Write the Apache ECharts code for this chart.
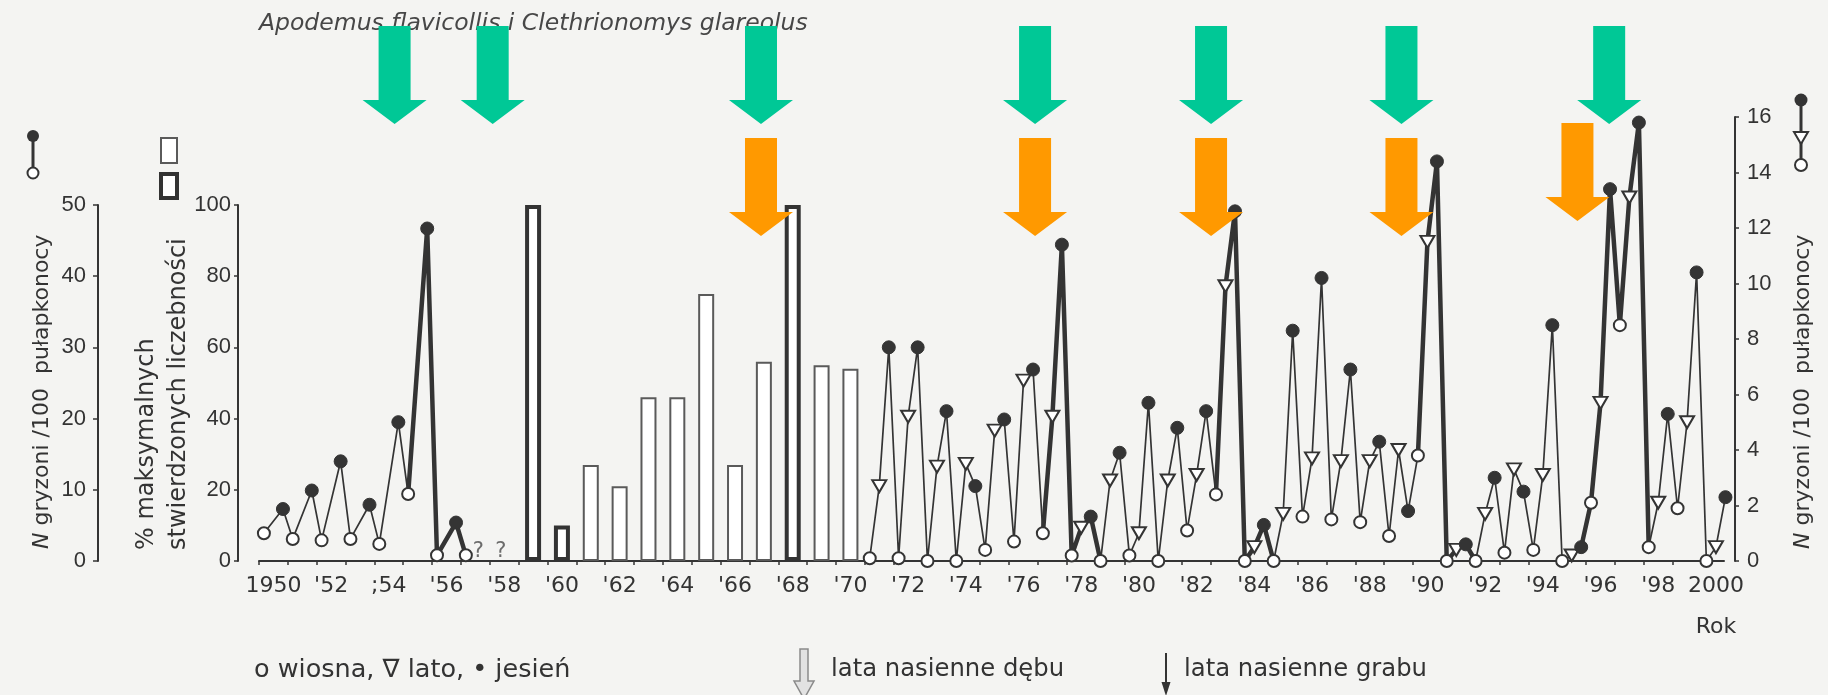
<!DOCTYPE html>
<html>
<head>
<meta charset="utf-8">
<script src="https://cdn.jsdelivr.net/npm/echarts@6/dist/echarts.min.js"></script>
<style>
  html, body { margin: 0; padding: 0; background: #f4f4f2; }
  #chart { width: 1828px; height: 695px; }
</style>
</head>
<body>
<div id="chart"></div>
<script>
// ---- 1950–1957: rodents per 100 trap-nights (left scale 0–50), spring and autumn
const earlyYears   = [1950, 1951, 1952, 1953, 1954, 1955, 1956, 1957];
const earlySpring  = [3.9, 3.1, 2.9, 3.1, 2.4, 9.4, 0.8, 0.8];
const earlyAutumn  = [7.3, 9.9, 14.0, 7.9, 19.5, 46.7, 5.4, null];
// years without records, marked with "?"
const unknownMarks = [1957.1, 1957.88];

// ---- 1959–1970: % of the maximum recorded abundance
const barYears   = [1959, 1960, 1961, 1962, 1963, 1964, 1965, 1966, 1967, 1968, 1969, 1970];
const barValues  = [100, 10, 27, 21, 46, 46, 75, 27, 56, 100, 55, 54];
const peakBarYears = [1959, 1960, 1968];

// ---- 1971–2000: rodents per 100 trap-nights (right scale 0–16)
const lateYears  = [1971, 1972, 1973, 1974, 1975, 1976, 1977, 1978, 1979, 1980,
                    1981, 1982, 1983, 1984, 1985, 1986, 1987, 1988, 1989, 1990,
                    1991, 1992, 1993, 1994, 1995, 1996, 1997, 1998, 1999, 2000];
const lateSpring = [0.1, 0.1, 0.0, 0.0, 0.4, 0.7, 1.0, 0.2, 0.0, 0.2,
                    0.0, 1.1, 2.4, 0.0, 0.0, 1.6, 1.5, 1.4, 0.9, 3.8,
                    0.0, 0.0, 0.3, 0.4, 0.0, 2.1, 8.5, 0.5, 1.9, 0.0];
const lateSummer = [2.7, 5.2, 3.4, 3.5, 4.7, 6.5, 5.2, 1.2, 2.9, 1.0,
                    2.9, 3.1, 9.9, 0.5, 1.7, 3.7, 3.6, 3.6, 4.0, 11.5,
                    0.4, 1.7, 3.3, 3.1, 0.2, 5.7, 13.1, 2.1, 5.0, 0.5];
const lateAutumn = [7.7, 7.7, 5.4, 2.7, 5.1, 6.9, 11.4, 1.6, 3.9, 5.7,
                    4.8, 5.4, 12.6, 1.3, 8.3, 10.2, 6.9, 4.3, 1.8, 14.4,
                    0.6, 3.0, 2.5, 8.5, 0.5, 13.4, 15.8, 5.3, 10.4, 2.3];

// outbreak periods drawn with a heavy line: [fromYear, fromSeason, toYear, toSeason]
const outbreakSpans = [
  [1955, 'spring', 1957, 'spring'],
  [1977, 'spring', 1979, 'spring'],
  [1983, 'spring', 1985, 'spring'],
  [1990, 'spring', 1992, 'spring'],
  [1995, 'autumn', 1998, 'spring']
];

// mast years: oak (upper arrows) and hornbeam (lower arrows)
const oakMastYears      = [1954.2, 1957.6, 1966.9, 1976.4, 1982.5, 1989.1, 1996.3];
const hornbeamMastYears = [1966.9, 1976.4, 1982.5, 1989.1, 1995.2];

// x-axis labels (every second year)
const labelYears  = [1950, 1952, 1954, 1956, 1958, 1960, 1962, 1964, 1966, 1968, 1970, 1972, 1974,
                     1976, 1978, 1980, 1982, 1984, 1986, 1988, 1990, 1992, 1994, 1996, 1998, 2000];
const labelTexts  = ['1950', "'52", ';54', "'56", "'58", "'60", "'62", "'64", "'66", "'68", "'70", "'72", "'74",
                     "'76", "'78", "'80", "'82", "'84", "'86", "'88", "'90", "'92", "'94", "'96", "'98", '2000'];

// ---------------------------------------------------------------------------
const INK = '#343434';
const TXT = '#333333';
const FONT_H = 'DejaVu Sans';
const FONT_V = 'Liberation Sans';

const SEASON_SHIFT = { spring: -0.33, summer: 0, autumn: 0.33 };
const seasonX = (year, season) => year + SEASON_SHIFT[season];

const MARKERS = {
  spring: { symbol: 'circle', symbolSize: 12,
            itemStyle: { color: '#fff', borderColor: INK, borderWidth: 2 } },
  summer: { symbol: 'triangle', symbolRotate: 180, symbolSize: [14, 12],
            itemStyle: { color: '#fff', borderColor: INK, borderWidth: 2 } },
  autumn: { symbol: 'circle', symbolSize: 13,
            itemStyle: { color: INK, borderColor: INK, borderWidth: 1 } }
};

// chronological list of seasonal samples
function samples(years, bySeason) {
  const out = [];
  years.forEach((y, i) => {
    ['spring', 'summer', 'autumn'].forEach(s => {
      const arr = bySeason[s];
      if (arr && arr[i] !== null && arr[i] !== undefined) {
        out.push({ x: seasonX(y, s), v: arr[i], season: s });
      }
    });
  });
  return out;
}

const earlyPts = samples(earlyYears, { spring: earlySpring, autumn: earlyAutumn });
const latePts  = samples(lateYears,  { spring: lateSpring, summer: lateSummer, autumn: lateAutumn });

function markedData(pts) {
  return pts.map(p => Object.assign({ value: [p.x, p.v] }, MARKERS[p.season]));
}

function thinLine(pts, xi, yi) {
  return {
    type: 'line', xAxisIndex: xi, yAxisIndex: yi, silent: true, z: 6, clip: false,
    data: markedData(pts),
    lineStyle: { color: INK, width: 1.7 },
    itemStyle: { color: INK },
    showAllSymbol: true
  };
}

function outbreakLines(pts, xi, yi) {
  const lo = pts[0].x, hi = pts[pts.length - 1].x;
  return outbreakSpans
    .map(([y0, s0, y1, s1]) => [seasonX(y0, s0), seasonX(y1, s1)])
    .filter(([a, b]) => a >= lo - 1e-6 && b <= hi + 1e-6)
    .map(([a, b]) => ({
      type: 'line', xAxisIndex: xi, yAxisIndex: yi, silent: true, z: 5, clip: false,
      showSymbol: false,
      data: pts.filter(p => p.x >= a - 1e-6 && p.x <= b + 1e-6).map(p => [p.x, p.v]),
      lineStyle: { color: INK, width: 4.5, cap: 'round', join: 'round' }
    }));
}

// block arrows pinned to the year scale
function arrowSeries(years, color, geom, lifts) {
  return {
    type: 'custom', xAxisIndex: 1, yAxisIndex: 2, silent: true, clip: false, z: 30,
    data: years.map(y => [y, 0]),
    renderItem(params, api) {
      const x = api.coord([api.value(0), 0])[0];
      const d = lifts ? lifts[params.dataIndex] : 0;
      const t = geom.top - d, n = geom.neck - d, p = geom.tip - d;
      return {
        type: 'polygon',
        shape: { points: [[x - 16, t], [x + 16, t], [x + 16, n], [x + 32, n], [x, p], [x - 32, n], [x - 16, n]] },
        style: { fill: color }
      };
    }
  };
}

const tickValues = [];
for (let y = 1949.5; y < 2000; y += 1) tickValues.push(y);

const X_MIN = 1949.5, X_MAX = 2000.28;
const GRID_L = 259, GRID_R = 104, GRID_B = 134;

const chart = echarts.init(document.getElementById('chart'));

const option = {
  animation: false,
  backgroundColor: '#f4f4f2',
  grid: [
    { left: GRID_L, right: GRID_R, top: 205, bottom: GRID_B },
    { left: GRID_L, right: GRID_R, top: 117, bottom: GRID_B }
  ],
  xAxis: [
    { gridIndex: 0, type: 'value', min: X_MIN, max: X_MAX, show: false },
    {
      gridIndex: 1, type: 'value', min: X_MIN, max: X_MAX,
      axisLine: { show: true, onZero: false, lineStyle: { color: INK, width: 2 } },
      axisTick: { show: true, customValues: tickValues, length: 4, lineStyle: { color: INK, width: 1.5 } },
      axisLabel: {
        show: true, customValues: labelYears, margin: 14,
        formatter: v => labelTexts[labelYears.indexOf(Math.round(v))],
        fontFamily: FONT_H, fontSize: 22, color: TXT
      },
      splitLine: { show: false }
    }
  ],
  yAxis: [
    {
      gridIndex: 0, type: 'value', position: 'left', offset: 161, min: 0, max: 50, interval: 10,
      axisLine: { show: true, lineStyle: { color: INK, width: 2 } },
      axisTick: { show: true, length: 5, lineStyle: { color: INK, width: 1.5 } },
      axisLabel: { margin: 12, fontFamily: FONT_V, fontSize: 22, color: TXT },
      splitLine: { show: false }
    },
    {
      gridIndex: 0, type: 'value', position: 'left', offset: 21, min: 0, max: 100, interval: 20,
      axisLine: { show: true, lineStyle: { color: INK, width: 2 } },
      axisTick: { show: true, length: 4, lineStyle: { color: INK, width: 1.5 } },
      axisLabel: { margin: 7, fontFamily: FONT_V, fontSize: 22, color: TXT },
      splitLine: { show: false }
    },
    {
      gridIndex: 1, type: 'value', position: 'right', offset: 11, min: 0, max: 16, interval: 2,
      axisLine: { show: true, lineStyle: { color: INK, width: 2 } },
      axisTick: { show: true, length: 4, lineStyle: { color: INK, width: 1.5 } },
      axisLabel: { margin: 12, fontFamily: FONT_V, fontSize: 22, color: TXT },
      splitLine: { show: false }
    }
  ],
  series: [
    // bars 1959–1970
    {
      type: 'bar', xAxisIndex: 0, yAxisIndex: 1, silent: true, barWidth: 16, z: 3,
      data: barYears.map((y, i) => ({
        value: [y, barValues[i]],
        itemStyle: peakBarYears.includes(y)
          ? { color: '#fff', borderColor: '#333', borderWidth: 4 }
          : { color: '#fff', borderColor: '#5a5a5a', borderWidth: 2 }
      }))
    },
    ...outbreakLines(earlyPts, 0, 0),
    thinLine(earlyPts, 0, 0),
    ...outbreakLines(latePts, 1, 2),
    thinLine(latePts, 1, 2),
    // question marks for missing years
    {
      type: 'scatter', xAxisIndex: 0, yAxisIndex: 0, silent: true, symbolSize: 1,
      itemStyle: { color: 'rgba(0,0,0,0)' },
      data: unknownMarks.map(x => [x, 1.3]),
      label: { show: true, position: 'inside', formatter: '?', fontFamily: FONT_H, fontSize: 21, color: '#4a4a4a' }
    },
    arrowSeries(oakMastYears, '#00c896', { top: 26, neck: 100, tip: 124 }),
    arrowSeries(hornbeamMastYears, '#ff9900', { top: 138, neck: 212, tip: 236 }, [0, 0, 0, 0, 15])
  ],
  graphic: [
    // species title
    { type: 'text', x: 259, y: 24, style: {
        text: 'Apodemus flavicollis i Clethrionomys glareolus',
        fontFamily: FONT_H, fontStyle: 'italic', fontSize: 23.5, fill: '#474747',
        align: 'left', verticalAlign: 'middle' } },
    // left axis title
    { type: 'text', x: 42, y: 549, rotation: Math.PI / 2, style: {
        text: '{i|N} gryzoni /100  pułapkonocy',
        fontFamily: FONT_H, fontSize: 22, fill: TXT, align: 'left', verticalAlign: 'middle',
        rich: { i: { fontFamily: FONT_H, fontSize: 22, fontStyle: 'italic', fill: TXT } } } },
    // percent axis title (two lines)
    { type: 'text', x: 147, y: 550, rotation: Math.PI / 2, style: {
        text: '% maksymalnych', fontFamily: FONT_H, fontSize: 24, fill: TXT,
        align: 'left', verticalAlign: 'middle' } },
    { type: 'text', x: 179, y: 550, rotation: Math.PI / 2, style: {
        text: 'stwierdzonych liczebności', fontFamily: FONT_H, fontSize: 24, fill: TXT,
        align: 'left', verticalAlign: 'middle' } },
    // right axis title
    { type: 'text', x: 1803, y: 549, rotation: Math.PI / 2, style: {
        text: '{i|N} gryzoni /100  pułapkonocy',
        fontFamily: FONT_H, fontSize: 22, fill: TXT, align: 'left', verticalAlign: 'middle',
        rich: { i: { fontFamily: FONT_H, fontSize: 22, fontStyle: 'italic', fill: TXT } } } },

    // key: spring-autumn line (left scale)
    { type: 'line', shape: { x1: 33, y1: 136, x2: 33, y2: 173 }, style: { stroke: INK, lineWidth: 3 } },
    { type: 'circle', shape: { cx: 33, cy: 136, r: 6 }, style: { fill: INK } },
    { type: 'circle', shape: { cx: 33, cy: 173, r: 5.5 }, style: { fill: '#fff', stroke: INK, lineWidth: 2 } },
    // key: bars
    { type: 'rect', shape: { x: 161, y: 138, width: 16, height: 25 }, style: { fill: '#fff', stroke: '#5a5a5a', lineWidth: 2 } },
    { type: 'rect', shape: { x: 161, y: 174, width: 16, height: 24 }, style: { fill: '#fff', stroke: '#333', lineWidth: 4 } },
    // key: spring-summer-autumn line (right scale)
    { type: 'line', shape: { x1: 1801, y1: 100, x2: 1801, y2: 165 }, style: { stroke: INK, lineWidth: 3 } },
    { type: 'circle', shape: { cx: 1801, cy: 100, r: 6.5 }, style: { fill: INK } },
    { type: 'polygon', shape: { points: [[1794, 132], [1808, 132], [1801, 144]] }, style: { fill: '#fff', stroke: INK, lineWidth: 2 } },
    { type: 'circle', shape: { cx: 1801, cy: 165, r: 6 }, style: { fill: '#fff', stroke: INK, lineWidth: 2 } },

    // x-axis name
    { type: 'text', x: 1716, y: 627, style: { text: 'Rok', fontFamily: FONT_H, fontSize: 22, fill: TXT, align: 'center', verticalAlign: 'middle' } },

    // bottom key
    { type: 'text', x: 254, y: 670, style: { text: 'o wiosna, \u2207 lato, \u2022 jesień', fontFamily: FONT_H, fontSize: 25.5, fill: TXT, align: 'left', verticalAlign: 'middle' } },
    { type: 'polygon', shape: { points: [[800, 649], [808, 649], [808, 681], [814, 681], [804, 699], [794, 681], [800, 681]] },
      style: { fill: '#e2e2e2', stroke: '#8a8a8a', lineWidth: 1.5 } },
    { type: 'text', x: 831, y: 670, style: { text: 'lata nasienne dębu', fontFamily: FONT_H, fontSize: 24.3, fill: TXT, align: 'left', verticalAlign: 'middle' } },
    { type: 'line', shape: { x1: 1166, y1: 653, x2: 1166, y2: 684 }, style: { stroke: '#333', lineWidth: 2 } },
    { type: 'polygon', shape: { points: [[1161.5, 682], [1170.5, 682], [1166, 696]] }, style: { fill: '#333' } },
    { type: 'text', x: 1184, y: 670, style: { text: 'lata nasienne grabu', fontFamily: FONT_H, fontSize: 24.3, fill: TXT, align: 'left', verticalAlign: 'middle' } }
  ]
};

chart.setOption(option);
</script>
</body>
</html>
